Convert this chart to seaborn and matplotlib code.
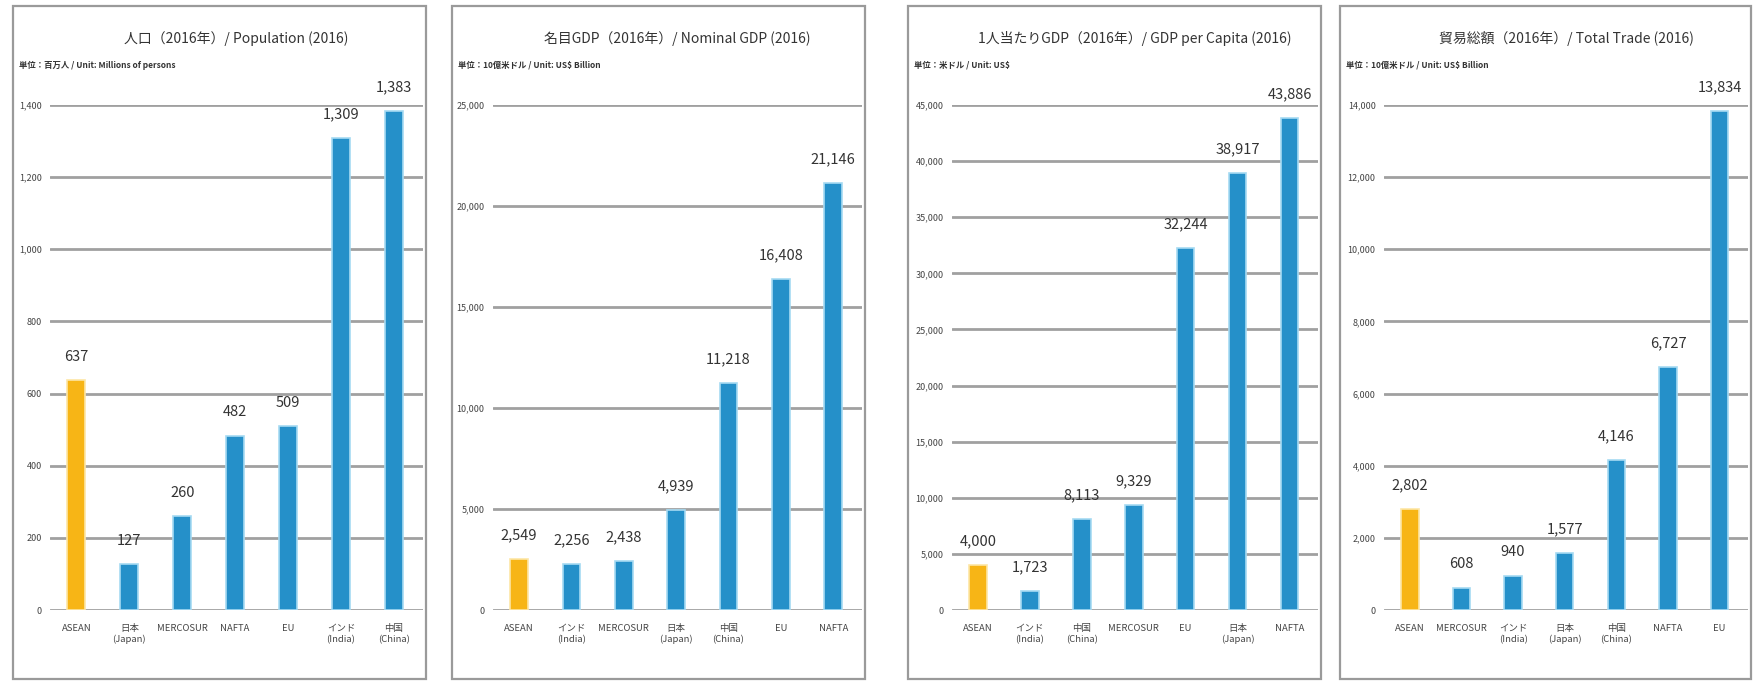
import matplotlib
matplotlib.use('Agg')
import matplotlib.pyplot as plt
import seaborn as sns
import pandas as pd
from matplotlib.patches import Rectangle

# 図のサイズ (px)
W, H = 1756, 682

# データ
pop_cats = ['ASEAN', '日本\n(Japan)', 'MERCOSUR', 'NAFTA', 'EU', 'インド\n(India)', '中国\n(China)']
pop_vals = [637, 127, 260, 482, 509, 1309, 1383]

gdp_cats = ['ASEAN', 'インド\n(India)', 'MERCOSUR', '日本\n(Japan)', '中国\n(China)', 'EU', 'NAFTA']
gdp_vals = [2549, 2256, 2438, 4939, 11218, 16408, 21146]

gdppc_cats = ['ASEAN', 'インド\n(India)', '中国\n(China)', 'MERCOSUR', 'EU', '日本\n(Japan)', 'NAFTA']
gdppc_vals = [4000, 1723, 8113, 9329, 32244, 38917, 43886]

trade_cats = ['ASEAN', 'MERCOSUR', 'インド\n(India)', '日本\n(Japan)', '中国\n(China)', 'NAFTA', 'EU']
trade_vals = [2802, 608, 940, 1577, 4146, 6727, 13834]

titles = ['人口（2016年）/ Population (2016)',
          '名目GDP（2016年）/ Nominal GDP (2016)',
          '1人当たりGDP（2016年）/ GDP per Capita (2016)',
          '貿易総額（2016年）/ Total Trade (2016)']
units = ['単位：百万人 / Unit: Millions of persons',
         '単位：10億米ドル / Unit: US$ Billion',
         '単位：米ドル / Unit: US$',
         '単位：10億米ドル / Unit: US$ Billion']

BLUE = '#2590c9'
YELLOW = '#f7b516'

sns.set_theme(style='white')
plt.rcParams['font.family'] = ['Noto Sans CJK JP', 'DejaVu Sans']

fig = plt.figure(figsize=(W / 100, H / 100), dpi=100)

# (カテゴリ, 値, 上限, 目盛間隔, 枠の左端, 枠の幅, 軸の左余白)
panels = [
    (pop_cats, pop_vals, 1400, 200, 13, 413, 37),
    (gdp_cats, gdp_vals, 25000, 5000, 452, 413, 41),
    (gdppc_cats, gdppc_vals, 45000, 5000, 908, 413, 44),
    (trade_cats, trade_vals, 14000, 2000, 1340, 411, 44),
]
y_top, y_zero = 105, 610

for k, (cats, vals, top, step, pl, pw, pad) in enumerate(panels):
    # 枠
    fig.add_artist(Rectangle((pl / W, 1 - 679 / H), pw / W, 673 / H,
                             transform=fig.transFigure, fill=False,
                             ec='#9a9a9a', lw=1.6))
    ax_l = pl + pad
    ax_r = pl + pw - 3
    ax = fig.add_axes([ax_l / W, 1 - y_zero / H, (ax_r - ax_l) / W, (y_zero - y_top) / H])

    df = pd.DataFrame({'cat': cats, 'val': vals})
    pal = {c: (YELLOW if c == 'ASEAN' else BLUE) for c in cats}
    sns.barplot(data=df, x='cat', y='val', hue='cat', palette=pal, legend=False,
                width=0.34, saturation=1, ax=ax, zorder=3)
    for p, c in zip(ax.patches, cats):
        p.set_edgecolor('#fde6a6' if c == 'ASEAN' else '#a6daf2')
        p.set_linewidth(1.2)

    ax.set_ylim(0, top)
    ax.set_xlim(-0.5, 6.55)
    ticks = list(range(0, top + 1, step))
    ax.set_yticks(ticks)
    ax.set_yticklabels([f'{t:,}' for t in ticks], fontsize=6.5, color='#444')
    ax.tick_params(axis='both', length=0)
    ax.tick_params(axis='y', pad=6)
    ax.tick_params(axis='x', pad=10)
    ax.set_xticks(range(len(cats)))
    ax.set_xticklabels(cats, fontsize=6.8, color='#444', linespacing=1.3)
    ax.set_xlabel('')
    ax.set_ylabel('')
    ax.grid(axis='y', color='#a0a0a0', lw=2)
    ax.set_axisbelow(True)
    for s in ax.spines.values():
        s.set_visible(False)

    for i, v in enumerate(vals):
        ax.annotate(f'{v:,}', (i, v), xytext=(0, 12), textcoords='offset points',
                    ha='center', va='bottom', fontsize=10.5, color='#333')

    fig.text((ax_l + ax_r) / 2 / W, 1 - 39 / H, titles[k], ha='center', va='center',
             fontsize=10, color='#333')
    fig.text((pl + 6) / W, 1 - 65 / H, units[k], ha='left', va='center',
             fontsize=6, color='#333', fontweight='bold')

fig.savefig('out.png', dpi=100)
